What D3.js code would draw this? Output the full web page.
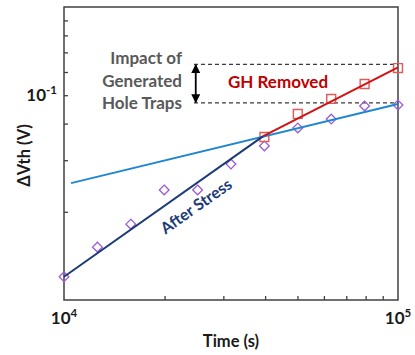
<!DOCTYPE html>
<html>
<head>
<meta charset="utf-8">
<script src="https://cdn.jsdelivr.net/npm/d3@7"></script>
<style>
  html, body { margin: 0; padding: 0; background: #fff; }
  svg { display: block; font-family: Lato, "Open Sans", sans-serif; font-weight: bold; }
</style>
</head>
<body>
<svg id="chart" width="415" height="355"></svg>
<script>
// Measurement times (s)
const times = [1.0e4, 1.259e4, 1.585e4, 1.995e4, 2.512e4, 3.162e4, 3.981e4, 5.012e4, 6.310e4, 7.943e4, 1.0e5];
// ΔVth after stress (V)
const afterStress = [0.0240, 0.0303, 0.0363, 0.0475, 0.0475, 0.0582, 0.0671, 0.0773, 0.0829, 0.0919, 0.0926];
// ΔVth with generated holes removed (V)
const ghTimes = [3.981e4, 5.012e4, 6.310e4, 7.943e4, 1.0e5];
const ghRemoved = [0.0720, 0.0863, 0.0971, 0.1092, 0.1238];
// Power-law fit segments [time, ΔVth]
const stressFit = [[1.0e4, 0.0240], [3.95e4, 0.0725]];
const trapFit = [[1.05e4, 0.0501], [1.0e5, 0.0933]];
const ghFit = [[3.95e4, 0.0725], [1.0e5, 0.1245]];
// Reference levels bracketing the hole-trap contribution
const refLevels = [0.1274, 0.0941];
const refStart = 2.45e4;
const arrowTime = 2.48e4;
// Axis ticks
const xMinorTicks = [2e4, 3e4, 4e4, 5e4, 6e4, 7e4, 8e4, 9e4];
const xLabelTicks = [[1e4, "4"], [1e5, "5"]];
const yMinorTicks = [0.04, 0.06, 0.08, 0.12, 0.14, 0.16, 0.18];
const yLabelTicks = [[0.1, "-1"]];

const svg = d3.select("#chart");
const L = 64, R = 398, T = 7, B = 300;
const x = d3.scaleLog().domain([1e4, 1e5]).range([L, R]);
const y = d3.scaleLog().domain([0.02, 0.2]).range([B, T]);

const axisColor = "#404040";

// Ticks (inside)
svg.append("g").attr("transform", `translate(0,${B})`)
  .call(d3.axisBottom(x).tickValues(xMinorTicks).tickSize(-4).tickFormat(""))
  .call(g => g.select(".domain").remove())
  .call(g => g.selectAll("line").attr("stroke", axisColor).attr("stroke-width", 1.3));
svg.append("g").attr("transform", `translate(${L},0)`)
  .call(d3.axisLeft(y).tickValues(yMinorTicks.concat([0.1])).tickSize(-4).tickFormat(""))
  .call(g => g.select(".domain").remove())
  .call(g => g.selectAll("line").attr("stroke", axisColor).attr("stroke-width", 1.3));

// Frame
svg.append("rect").attr("x", L).attr("y", T).attr("width", R - L).attr("height", B - T)
  .attr("fill", "none").attr("stroke", axisColor).attr("stroke-width", 1.5);

// Tick labels with exponents
xLabelTicks.forEach(([v, e]) => {
  const t = svg.append("text").attr("x", x(v)).attr("y", 324).attr("text-anchor", "middle")
    .attr("font-size", 17).attr("fill", "#1a1a1a");
  t.append("tspan").text("10");
  t.append("tspan").attr("dy", -7).attr("font-size", 11.5).text(e);
});
yLabelTicks.forEach(([v, e]) => {
  const t = svg.append("text").attr("x", 57).attr("y", y(v) + 6).attr("text-anchor", "end")
    .attr("font-size", 17).attr("fill", "#1a1a1a");
  t.append("tspan").text("10");
  t.append("tspan").attr("dy", -7).attr("font-size", 11.5).text(e);
});

// Axis titles
svg.append("text").attr("x", 231).attr("y", 347).attr("text-anchor", "middle")
  .attr("font-size", 16.5).attr("fill", "#1a1a1a").text("Time (s)");
svg.append("text").attr("transform", "translate(30,155.5) rotate(-90)").attr("text-anchor", "middle")
  .attr("font-size", 16.5).attr("fill", "#1a1a1a").text("ΔVth (V)");

// Reference dashed levels
const ref = svg.append("g");
refLevels.forEach(v => {
  ref.append("line").attr("x1", x(refStart)).attr("x2", x(1e5)).attr("y1", y(v)).attr("y2", y(v))
    .attr("stroke", "#3a3a3a").attr("stroke-width", 1.3).attr("stroke-dasharray", "4,3");
});

// Double-headed arrow
const defs = svg.append("defs");
defs.append("marker").attr("id", "ah").attr("viewBox", "0 0 10 10").attr("refX", 9).attr("refY", 5)
  .attr("markerWidth", 5).attr("markerHeight", 5).attr("orient", "auto-start-reverse")
  .append("path").attr("d", "M0,0L10,5L0,10Z").attr("fill", "#000");
svg.append("line").attr("x1", x(arrowTime)).attr("x2", x(arrowTime))
  .attr("y1", y(refLevels[0]) + 0.5).attr("y2", y(refLevels[1]) - 0.5)
  .attr("stroke", "#000").attr("stroke-width", 1.8)
  .attr("marker-start", "url(#ah)").attr("marker-end", "url(#ah)");

// Markers
const diamond = d3.symbol().type(d3.symbolDiamond2).size(60);
svg.append("g").selectAll("path").data(times.map((t, i) => [t, afterStress[i]])).join("path")
  .attr("d", diamond).attr("transform", d => `translate(${x(d[0])},${y(d[1])})`)
  .attr("fill", "none").attr("stroke", "#9a5bd6").attr("stroke-width", 1.3);
const square = d3.symbol().type(d3.symbolSquare2).size(100);
svg.append("g").selectAll("path").data(ghTimes.map((t, i) => [t, ghRemoved[i]])).join("path")
  .attr("d", square).attr("transform", d => `translate(${x(d[0])},${y(d[1])})`)
  .attr("fill", "none").attr("stroke", "#e05a5a").attr("stroke-width", 1.4);

// Fit lines
const line = d3.line().x(d => x(d[0])).y(d => y(d[1]));
svg.append("path").datum(trapFit).attr("d", line).attr("fill", "none")
  .attr("stroke", "#1f86d2").attr("stroke-width", 2);
svg.append("path").datum(stressFit).attr("d", line).attr("fill", "none")
  .attr("stroke", "#1c3a78").attr("stroke-width", 2);
svg.append("path").datum(ghFit).attr("d", line).attr("fill", "none")
  .attr("stroke", "#d41111").attr("stroke-width", 2);

// Annotations
const imp = svg.append("text").attr("text-anchor", "end").attr("font-size", 17).attr("fill", "#595959");
[["Impact of", 64], ["Generated", 86.5], ["Hole Traps", 109]].forEach(([s, yy]) => {
  imp.append("tspan").attr("x", 182).attr("y", yy).text(s);
});
svg.append("text").attr("x", 278).attr("y", 87.5).attr("text-anchor", "middle")
  .attr("font-size", 17).attr("fill", "#c00000").text("GH Removed");
const a0 = stressFit[0], a1 = stressFit[1];
const ang = Math.atan2(y(a1[1]) - y(a0[1]), x(a1[0]) - x(a0[0])) * 180 / Math.PI;
svg.append("text").attr("transform", `translate(197,207.5) rotate(${ang})`)
  .attr("text-anchor", "middle").attr("dominant-baseline", "middle")
  .attr("font-size", 16).attr("fill", "#1c3a78").text("After Stress");
</script>
</body>
</html>
